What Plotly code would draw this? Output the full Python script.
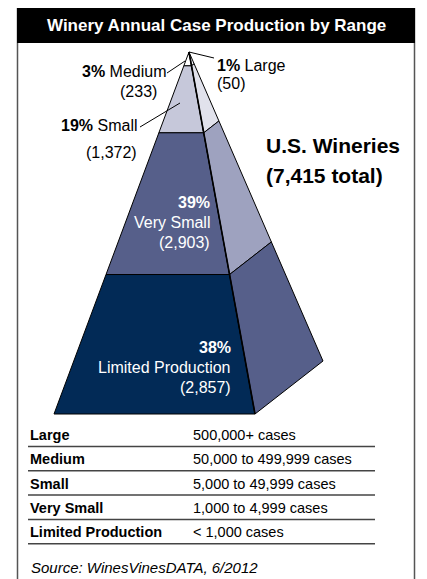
import plotly.graph_objects as go

categories = ["Large", "Medium", "Small", "Very Small", "Limited Production"]
wineries = [50, 233, 1372, 2903, 2857]
shares = [1, 3, 19, 39, 38]
case_ranges = ["500,000+ cases", "50,000 to 499,999 cases", "5,000 to 49,999 cases",
               "1,000 to 4,999 cases", "< 1,000 cases"]
source = "Source: WinesVinesDATA, 6/2012"
title = "Winery Annual Case Production by Range"

FONT = "Liberation Sans, Arial, Helvetica, sans-serif"
front_colors = ["#ffffff", "#ffffff", "#c6c8da", "#565f8a", "#022a56"]
side_colors = ["#ffffff", "#f2f2f7", "#e1e2ec", "#9ea2bf", "#565f8a"]

# pyramid frame (pixel space of the 427x579 page)
apex = (189, 52)
front_left = (54, 414)
front_right = (255, 414)
back_right = (323, 361)


def at(p, t):
    return (apex[0] + t * (p[0] - apex[0]), apex[1] + t * (p[1] - apex[1]))


total = sum(wineries)
cum = [0]
for n in wineries:
    cum.append(cum[-1] + n / total)

fig = go.Figure()

for i, cat in enumerate(categories):
    t0, t1 = cum[i], cum[i + 1]
    for corners, col in (((front_left, front_right), front_colors[i]),
                         ((front_right, back_right), side_colors[i])):
        a, b = corners
        pts = [at(a, t0), at(b, t0), at(b, t1), at(a, t1), at(a, t0)]
        fig.add_trace(go.Scatter(
            x=[p[0] for p in pts], y=[p[1] for p in pts],
            mode="lines", fill="toself", fillcolor=col,
            line=dict(color="black", width=1),
            name=cat, hoverinfo="text",
            text=f"{cat}: {wineries[i]:,} ({shares[i]}%)",
        ))

# front-right edge a little heavier
fig.add_trace(go.Scatter(x=[apex[0], front_right[0]], y=[apex[1], front_right[1]],
                         mode="lines", line=dict(color="black", width=1.6),
                         hoverinfo="skip"))

shapes = []
# frame + title bar
shapes.append(dict(type="line", x0=17.5, x1=17.5, y0=8, y1=579, line=dict(color="#555", width=1.5)))
shapes.append(dict(type="line", x0=414.5, x1=414.5, y0=8, y1=579, line=dict(color="#555", width=1.5)))
shapes.append(dict(type="rect", x0=17, x1=415, y0=8, y1=43, fillcolor="black", line=dict(width=0)))

# leader lines
for x0, y0, x1, y1 in [(189, 52, 214, 58), (167, 73, 185, 61), (140, 127, 180, 103)]:
    shapes.append(dict(type="line", x0=x0, y0=y0, x1=x1, y1=y1, line=dict(color="black", width=1)))

ann = []
ann.append(dict(x=216, y=25.5, text=f"<b>{title}</b>", showarrow=False,
                font=dict(size=17, color="white", family=FONT)))


def label(x, y, text, anchor="left", size=16, color="black"):
    ann.append(dict(x=x, y=y, text=text, showarrow=False, xanchor=anchor, yanchor="middle",
                    font=dict(size=size, color=color, family=FONT)))


label(215, 65, f"<b>{shares[0]}%</b> {categories[0]}")
label(215, 83, f"({wineries[0]:,})")
label(168, 71, f"<b>{shares[1]}%</b> {categories[1]}", anchor="right")
label(159, 91, f"({wineries[1]:,})", anchor="right")
label(139, 125, f"<b>{shares[2]}%</b> {categories[2]}", anchor="right")
label(139, 152, f"({wineries[2]:,})", anchor="right")
for i, x, y in [(3, 212, 222), (4, 233, 367)]:
    label(x, y - 20, f"<b>{shares[i]}%</b>", color="white", anchor="right")
    label(x, y, categories[i], color="white", anchor="right")
    label(x, y + 20, f"({wineries[i]:,})", color="white", anchor="right")
label(264, 145, "<b>U.S. Wineries</b>", size=21)
label(264, 175, f"<b>({total:,} total)</b>", size=21)

# range table
for i, cat in enumerate(categories):
    yc = 435 + 24.3 * i
    label(28, yc, f"<b>{cat}</b>", size=14.5)
    label(191, yc, case_ranges[i], size=14.5)
    shapes.append(dict(type="line", x0=28, x1=375, y0=yc + 11.5, y1=yc + 11.5,
                       line=dict(color="#444", width=1.5)))
label(29, 567, f"<i>{source}</i>", size=15)

fig.update_layout(
    width=427, height=579, margin=dict(l=0, r=0, t=0, b=0),
    paper_bgcolor="white", plot_bgcolor="white", showlegend=False,
    xaxis=dict(range=[0, 427], visible=False, fixedrange=True),
    yaxis=dict(range=[579, 0], visible=False, fixedrange=True),
    shapes=shapes, annotations=ann,
)
fig.write_html("out.html", config={"displayModeBar": False},
               post_script="document.body.style.margin='0';")
